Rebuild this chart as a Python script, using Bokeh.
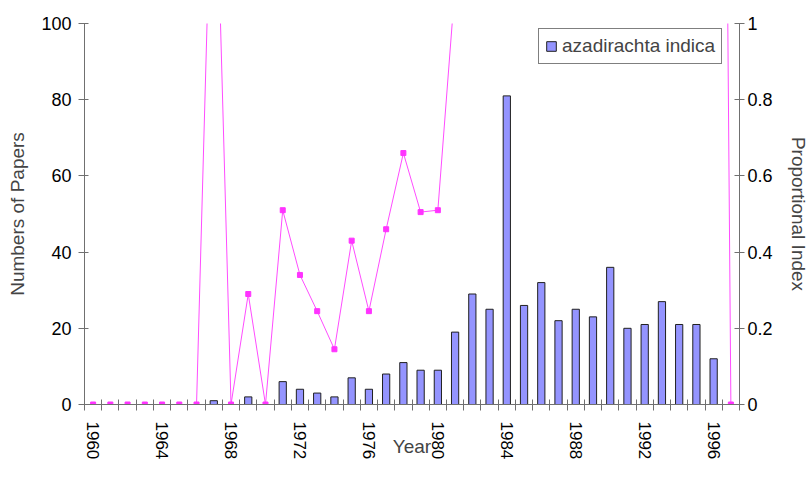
from bokeh.plotting import figure
from bokeh.models import Range1d, LinearAxis, FixedTicker, Legend, LegendItem
from bokeh.embed import file_html
from bokeh.resources import INLINE

# ---- data ----
years = list(range(1960, 1998))
papers = [0, 0, 0, 0, 0, 0, 0, 1, 0, 2,
          0, 6, 4, 3, 2, 7, 4, 8, 11, 9,
          9, 19, 29, 25, 81, 26, 32, 22, 25, 23,
          36, 20, 21, 27, 21, 21, 12, 0]
prop_index = [0, 0, 0, 0, 0, 0, 0, 1.64, 0, 0.29,
              0, 0.51, 0.34, 0.245, 0.145, 0.43, 0.245, 0.46, 0.66, 0.505,
              0.51, 1.10, 1.9, 1.6, 4.2, 1.5, 1.8, 1.3, 1.4, 1.3,
              2.0, 1.2, 1.3, 1.6, 1.3, 1.4, 5.6, 0]
x_label_years = [1960, 1964, 1968, 1972, 1976, 1980, 1984, 1988, 1992, 1996]
left_ticks = [0, 20, 40, 60, 80, 100]
right_ticks = [0, 0.2, 0.4, 0.6, 0.8, 1.0]
series_name = "azadirachta indica"

FONT = "Liberation Sans"
AXIS_COLOR = "#707070"

p = figure(frame_width=655, frame_height=381, output_backend="svg",
           toolbar_location=None,
           x_range=Range1d(years[0] - 0.5, years[-1] + 0.5),
           y_range=Range1d(0, 100),
           min_border_left=84, min_border_right=68,
           min_border_top=23, min_border_bottom=94)
p.extra_y_ranges = {"idx": Range1d(0, 1)}
p.outline_line_color = None
p.xgrid.visible = False
p.ygrid.visible = False
p.background_fill_color = "white"
p.border_fill_color = "white"

bars = p.vbar(x=years, top=papers, width=0.42, fill_color="#9494FF",
              line_color="#202020", line_width=1)
p.line(years, prop_index, y_range_name="idx", line_color="#FF4CFF", line_width=1)
p.scatter(years, prop_index, y_range_name="idx", marker="square", size=5,
          fill_color="#FF33FF", line_color="#FF33FF")

# x axis
xa = p.xaxis[0]
boundaries = [y - 0.5 for y in years] + [years[-1] + 0.5]
xa.ticker = FixedTicker(ticks=x_label_years, minor_ticks=boundaries)
xa.major_label_overrides = {y: str(y) for y in x_label_years}
xa.major_tick_in = 0
xa.major_tick_out = 0
xa.minor_tick_in = 5
xa.minor_tick_out = 6
xa.minor_tick_line_color = AXIS_COLOR
xa.axis_line_color = AXIS_COLOR
xa.major_label_orientation = "vertical"
xa.major_label_standoff = 11
xa.major_label_text_font = FONT
xa.major_label_text_font_size = "17px"
xa.major_label_text_color = "black"
xa.axis_label = "Year"
xa.axis_label_standoff = -26
xa.axis_label_text_font = FONT
xa.axis_label_text_font_size = "19px"
xa.axis_label_text_font_style = "normal"

# left axis
ya = p.yaxis[0]
ya.ticker = FixedTicker(ticks=left_ticks)
ya.major_tick_in = 4
ya.major_tick_out = 6
ya.minor_tick_line_color = None
ya.major_tick_line_color = AXIS_COLOR
ya.axis_line_color = AXIS_COLOR
ya.major_label_standoff = 7
ya.major_label_text_font = FONT
ya.major_label_text_font_size = "18px"
ya.major_label_text_color = "black"
ya.axis_label = "Numbers of Papers"
ya.axis_label_standoff = 10
ya.axis_label_text_font = FONT
ya.axis_label_text_font_size = "19px"
ya.axis_label_text_font_style = "normal"

# right axis
ra = LinearAxis(y_range_name="idx", ticker=FixedTicker(ticks=right_ticks))
ra.major_label_overrides = {0: "0", 1: "1"}
ra.major_tick_in = 5
ra.major_tick_out = 5
ra.minor_tick_line_color = None
ra.major_tick_line_color = AXIS_COLOR
ra.axis_line_color = AXIS_COLOR
ra.major_label_standoff = 3
ra.major_label_text_font = FONT
ra.major_label_text_font_size = "18px"
ra.major_label_text_color = "black"
ra.axis_label = "Proportional Index"
ra.axis_label_standoff = 12
ra.axis_label_text_font = FONT
ra.axis_label_text_font_size = "19px"
ra.axis_label_text_font_style = "normal"
p.add_layout(ra, "right")

legend = Legend(items=[LegendItem(label=series_name, renderers=[bars])],
                location=(454, 340), orientation="horizontal",
                padding=6, spacing=0, margin=0,
                glyph_width=12, glyph_height=12, label_standoff=5,
                border_line_color="black", border_line_width=1,
                background_fill_color="white", background_fill_alpha=1,
                label_text_font=FONT, label_text_font_size="19px")
p.add_layout(legend)

open("out.html", "w").write(file_html(p, INLINE))
